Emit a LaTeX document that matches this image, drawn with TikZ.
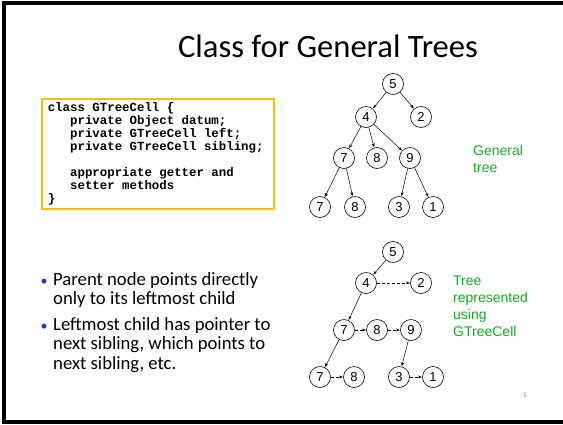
\documentclass[tikz,border=0pt]{standalone}
\usepackage{fontspec}
\setmainfont{Carlito}
\setmonofont{Liberation Mono}
\newfontfamily\arialfont{Liberation Sans}
\usetikzlibrary{arrows.meta}
\definecolor{boxorange}{RGB}{255,192,0}
\definecolor{labelgreen}{RGB}{20,170,40}
\definecolor{bulletblue}{RGB}{30,60,200}
\newcommand\gap{\hspace*{0.6em}}

\begin{document}
\begin{tikzpicture}[x=1pt,y=-1pt,
  vtx/.style={draw, circle, line width=0.6pt, inner sep=0pt, minimum size=21pt, font=\arialfont\fontsize{13}{13}\selectfont},
  ptr/.style={-{Stealth[length=4pt,width=3pt]}, line width=0.5pt, shorten >=0.3pt},
  sib/.style={ptr, dash pattern=on 3pt off 2pt},
  note/.style={text=labelgreen, align=left, anchor=base west, font=\arialfont\fontsize{14}{16.8}\selectfont, inner sep=0pt},
  bullet/.style={text=bulletblue, anchor=base, inner sep=0pt, font=\fontsize{14}{14}\selectfont},
  item/.style={anchor=north west, align=left, inner sep=0pt, font=\fontsize{18.7}{19.6}\selectfont}]
\useasboundingbox (0,0) rectangle (563,424);

% frame of the slide
\draw[line width=4pt] (4,424) -- (4,2.5) -- (563,2.5);
\draw[line width=4pt] (2,421.5) -- (563,421.5);

% title
\node[anchor=base, inner sep=0pt, font=\fontsize{32.6}{32.6}\selectfont] (title) at (328,57) {Class for General Trees};

% code box
\node[draw=boxorange, line width=1.6pt, anchor=north west, minimum width=232pt, minimum height=110pt,
      inner xsep=6pt, text width=220pt, align=left,
      font=\ttfamily\bfseries\fontsize{12.4}{13}\selectfont] (code) at (41,98)
  {class\gap GTreeCell\gap\{\\
   \gap\gap\gap private\gap Object\gap datum;\\
   \gap\gap\gap private\gap GTreeCell\gap left;\\
   \gap\gap\gap private\gap GTreeCell\gap sibling;\\[13pt]
   \gap\gap\gap appropriate\gap getter\gap and\\
   \gap\gap\gap setter\gap methods\\
   \}};

% bullets
\node[bullet] (b1) at (44,285) {•};
\node[item] (t1) at (53,272) {Parent node points directly\\only to its leftmost child};
\node[bullet] (b2) at (44,330) {•};
\node[item] (t2) at (53,317) {Leftmost child has pointer to\\next sibling, which points to\\next sibling, etc.};

% general tree
\node[vtx] (a5) at (393,84) {5};
\node[vtx] (a4) at (366,117) {4};
\node[vtx] (a2) at (421,117) {2};
\node[vtx] (a7) at (344,158) {7};
\node[vtx] (a8) at (377,158) {8};
\node[vtx] (a9) at (410,158) {9};
\node[vtx] (a7b) at (320,207) {7};
\node[vtx] (a8b) at (355,207) {8};
\node[vtx] (a3) at (399,207) {3};
\node[vtx] (a1) at (433,207) {1};
\draw[ptr] (a5) -- (a4);
\draw[ptr] (a5) -- (a2);
\draw[ptr] (a4) -- (a7);
\draw[ptr] (a4) -- (a8);
\draw[ptr] (a4) -- (a9);
\draw[ptr] (a7) -- (a7b);
\draw[ptr] (a7) -- (a8b);
\draw[ptr] (a9) -- (a3);
\draw[ptr] (a9) -- (a1);
\node[note] (n1) at (473,172) {General\\tree};

% tree with GTreeCell
\node[vtx] (c5) at (393,252) {5};
\node[vtx] (c4) at (366,283) {4};
\node[vtx] (c2) at (421,283) {2};
\node[vtx] (c7) at (344,330) {7};
\node[vtx] (c8) at (377,330) {8};
\node[vtx] (c9) at (411,330) {9};
\node[vtx] (c7b) at (320,377) {7};
\node[vtx] (c8b) at (354,377) {8};
\node[vtx] (c3) at (399,377) {3};
\node[vtx] (c1) at (433,377) {1};
\draw[ptr] (c5) -- (c4);
\draw[sib] (c4) -- (c2);
\draw[ptr] (c4) -- (c7);
\draw[sib] (c7) -- (c8);
\draw[sib] (c8) -- (c9);
\draw[ptr] (c7) -- (c7b);
\draw[sib] (c7b) -- (c8b);
\draw[ptr] (c9) -- (c3);
\draw[sib] (c3) -- (c1);
\node[note] (n2) at (453,336) {Tree\\represented\\using\\GTreeCell};

% slide number
\node[text=gray, font=\fontsize{7}{7}\selectfont, inner sep=0pt] (num) at (525,395) {5};
\end{tikzpicture}
\end{document}
